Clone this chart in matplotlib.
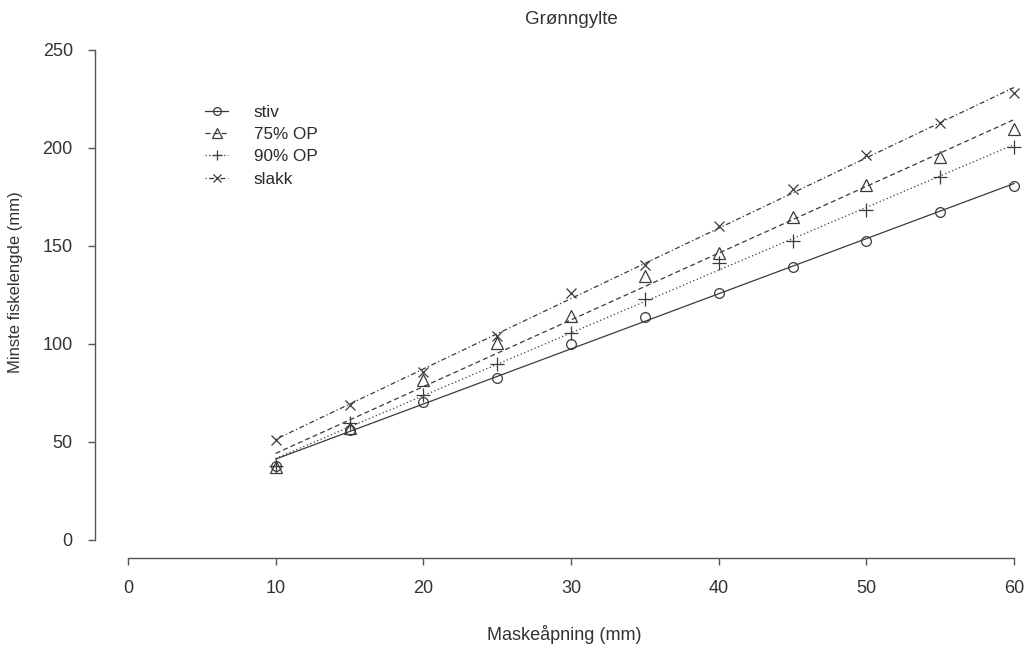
import numpy as np
import matplotlib
matplotlib.use("Agg")
import matplotlib.pyplot as plt

plt.rcParams['font.family'] = ['Liberation Sans', 'DejaVu Sans']

maskeapning = [10, 15, 20, 25, 30, 35, 40, 45, 50, 55, 60]
stiv = [37.8, 56, 70.6, 82.5, 100, 113.9, 126.2, 139.5, 152.7, 167.5, 180.6]
op75 = [37.5, 57, 81.6, 100.3, 114.3, 134.9, 146.3, 164.6, 181, 195.6, 209.5]
op90 = [38, 59.7, 74, 89.8, 105.4, 122.8, 141.5, 152.7, 168.4, 185.4, 200.7]
slakk = [51, 68.9, 85.9, 104, 126.2, 140.3, 160.2, 178.9, 196.4, 212.6, 227.9]
series_names = ['stiv', '75% OP', '90% OP', 'slakk']
xticks = [0, 10, 20, 30, 40, 50, 60]
yticks = [0, 50, 100, 150, 200, 250]

W, H = 1026, 648
fig = plt.figure(figsize=(W / 100, H / 100), dpi=100)
# px mapping: x 0->128, 60->1014 ; y 0->540, 250->50
xs = (1014 - 128) / 60.0
ys = (540 - 50) / 250.0
left_px, right_px = 95, 1047
bottom_px, top_px = 558, 40
ax = fig.add_axes([left_px / W, 1 - bottom_px / H, (right_px - left_px) / W, (bottom_px - top_px) / H])
ax.set_xlim((left_px - 128) / xs, (right_px - 128) / xs)
ax.set_ylim((540 - bottom_px) / ys, (540 - top_px) / ys)

col = '#3a3a3a'
styles = [
    dict(ls='-', marker='o', ms=7),
    dict(ls=(0, (4, 2.5)), marker='^', ms=8.5),
    dict(ls=(0, (1, 2)), marker='+', ms=9.5),
    dict(ls=(0, (1, 2, 4, 2)), marker='x', ms=7.5),
]
x = np.array(maskeapning, dtype=float)
handles = []
for data, st, name in zip([stiv, op75, op90, slakk], styles, series_names):
    y = np.array(data)
    b, a = np.polyfit(x, y, 1)
    ax.plot([x[0], x[-1]], [a + b * x[0], a + b * x[-1]], color=col, lw=0.9, ls=st['ls'])
    ax.plot(x, y, ls='none', marker=st['marker'], ms=st['ms'], mfc='none', mec=col, mew=0.9)
    h, = ax.plot([], [], color=col, lw=0.9, ls=st['ls'], marker=st['marker'], ms=st['ms'] * 0.8,
                 mfc='none', mec=col, mew=0.9)
    handles.append(h)

for s in ['top', 'right']:
    ax.spines[s].set_visible(False)
ax.spines['left'].set_bounds(0, 250)
ax.spines['bottom'].set_bounds(0, 60)
for s in ['left', 'bottom']:
    ax.spines[s].set_color('#555555')
    ax.spines[s].set_linewidth(1.0)
ax.set_xticks(xticks)
ax.set_yticks(yticks)
ax.tick_params(axis='both', length=5, width=1.0, color='#555555', labelsize=13, labelcolor='#333333')
ax.tick_params(axis='x', pad=11)
ax.tick_params(axis='y', pad=11)

fig.text(564 / W, 1 - 635 / H, 'Maskeåpning (mm)', ha='center', va='center', fontsize=13, color='#333333')
fig.text(16 / W, 1 - 282 / H, 'Minste fiskelengde (mm)', ha='center', va='center', rotation=90,
         fontsize=12, color='#333333')
fig.text(571 / W, 1 - 20 / H, 'Grønngylte', ha='center', va='center', fontsize=13.5, color='#333333')

leg = ax.legend(handles, series_names, loc='upper left', bbox_to_anchor=(205 / W, 1 - 105 / H),
                bbox_transform=fig.transFigure, frameon=False, fontsize=12.3, handlelength=1.35,
                handletextpad=1.5, labelspacing=0.42, borderpad=0, borderaxespad=0, numpoints=1)
for t in leg.get_texts():
    t.set_color('#2a2a2a')

fig.savefig('out.png', dpi=100)
